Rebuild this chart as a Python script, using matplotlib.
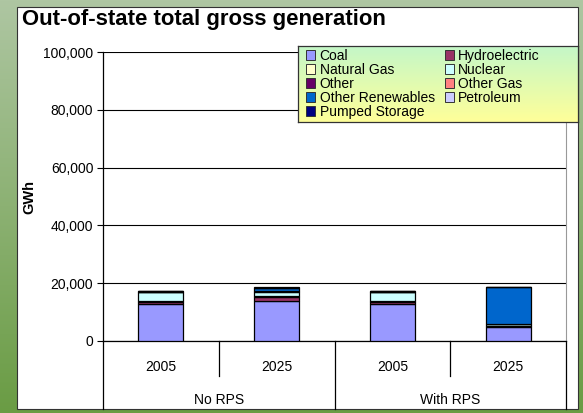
import matplotlib
matplotlib.use('Agg')
import matplotlib.pyplot as plt
import numpy as np
from matplotlib.patches import Patch, Rectangle
from matplotlib.colors import LinearSegmentedColormap

plt.rcParams['font.family'] = ['Liberation Sans', 'DejaVu Sans']

years = ['2005', '2025', '2005', '2025']
groups = ['No RPS', 'With RPS']
sources = ['Coal', 'Hydroelectric', 'Natural Gas', 'Nuclear', 'Other', 'Other Gas',
           'Other Renewables', 'Petroleum', 'Pumped Storage']
colors = ['#9999ff', '#993366', '#ffffcc', '#ccffff', '#660066', '#ff8080',
          '#0066cc', '#ccccff', '#000080']

# GWh, one value per bar
coal = [12800, 14000, 12800, 4700]
hydro = [800, 1100, 800, 400]
natural_gas = [300, 300, 300, 200]
nuclear = [2900, 1700, 2900, 500]
other = [200, 200, 200, 200]
other_gas = [0, 0, 0, 0]
other_renewables = [200, 1100, 200, 12700]
petroleum = [0, 0, 0, 0]
pumped_storage = [100, 200, 100, 0]

series = [coal, hydro, natural_gas, nuclear, other, other_gas,
          other_renewables, petroleum, pumped_storage]

W, H = 583, 413
fig = plt.figure(figsize=(W / 100, H / 100), dpi=100)

# green gradient background
bg = fig.add_axes([0, 0, 1, 1], zorder=-10)
bg_cmap = LinearSegmentedColormap.from_list('bg', ['#aec6a2', '#6a9c44'])
bg.imshow(np.linspace(0, 1, 256).reshape(-1, 1), aspect='auto', cmap=bg_cmap,
          extent=[0, 1, 0, 1])
bg.set_axis_off()

# white chart panel
fig.patches.append(Rectangle((17 / W, 1 - 409 / H), 561 / W, 402 / H,
                             transform=fig.transFigure, facecolor='white',
                             edgecolor='#333333', lw=0.8, zorder=-5))

ax = fig.add_axes([103 / W, 1 - 341 / H, 463 / W, 289 / H])
ax.set_facecolor('none')
x = np.arange(len(years))
bottom = np.zeros(len(years))
for vals, c in zip(series, colors):
    ax.bar(x, vals, 0.39, bottom=bottom, color=c, edgecolor='black', lw=0.9, zorder=3)
    bottom += np.array(vals)

ax.set_xlim(-0.5, len(years) - 0.5)
ax.set_ylim(0, 100000)
ax.set_yticks(np.arange(0, 100001, 20000))
ax.set_yticklabels([f'{v:,}' for v in range(0, 100001, 20000)], fontsize=10)
ax.yaxis.grid(True, color='black', lw=0.8)
ax.set_axisbelow(True)
ax.tick_params(axis='y', length=4, width=0.8, pad=3)
ax.set_xticks([])
ax.spines['top'].set_visible(False)
ax.spines['right'].set_color('#999999')
ax.spines['left'].set_linewidth(0.9)
ax.spines['bottom'].set_linewidth(0.9)
ax.set_ylabel('GWh', fontsize=10.5, fontweight='bold', labelpad=5)

# two-level category axis
tr = ax.get_xaxis_transform()
for i, yr in enumerate(years):
    ax.text(x[i], -0.09, yr, transform=tr, ha='center', va='center', fontsize=10)
for i in range(1, len(years)):
    edge = x[i] - 0.5
    low = -0.235 if i % 2 == 0 else -0.121
    ax.plot([edge, edge], [0, low], transform=tr, color='black', lw=0.9, clip_on=False)
for edge in [x[0] - 0.5, x[-1] + 0.5]:
    ax.plot([edge, edge], [0, -0.235], transform=tr, color='black', lw=0.9, clip_on=False)
for g, name in enumerate(groups):
    ax.text(x[2 * g] + 0.5, -0.203, name, transform=tr, ha='center', va='center', fontsize=10)

fig.text(22 / W, 1 - 19 / H, 'Out-of-state total gross generation', fontsize=15.9,
         fontweight='bold', ha='left', va='center')

# legend box with gradient
lx0, lx1, ly0, ly1 = 298, 578, 46, 122
lax = fig.add_axes([lx0 / W, 1 - ly1 / H, (lx1 - lx0) / W, (ly1 - ly0) / H], zorder=5)
lg_cmap = LinearSegmentedColormap.from_list('lg', ['#ffff99', '#c4f7c8'])
lax.imshow(np.linspace(0, 1, 256).reshape(-1, 1), aspect='auto', cmap=lg_cmap,
           origin='lower', extent=[0, 1, 0, 1])
lax.set_xticks([])
lax.set_yticks([])
for s in lax.spines.values():
    s.set_color('#333333')
    s.set_linewidth(0.9)
handles = [Patch(facecolor=c, edgecolor='#333333', lw=0.7) for c in colors]
# row-wise order in two columns
order = list(range(0, 9, 2)) + list(range(1, 9, 2))
lax.legend([handles[i] for i in order], [sources[i] for i in order], ncol=2,
           loc='upper left', bbox_to_anchor=(-0.01, 1.11), frameon=False, fontsize=10,
           handlelength=0.65, handleheight=0.65, handletextpad=0.3, labelspacing=0.0,
           columnspacing=0.75, borderaxespad=0.4)

fig.savefig('out.png', dpi=100)
